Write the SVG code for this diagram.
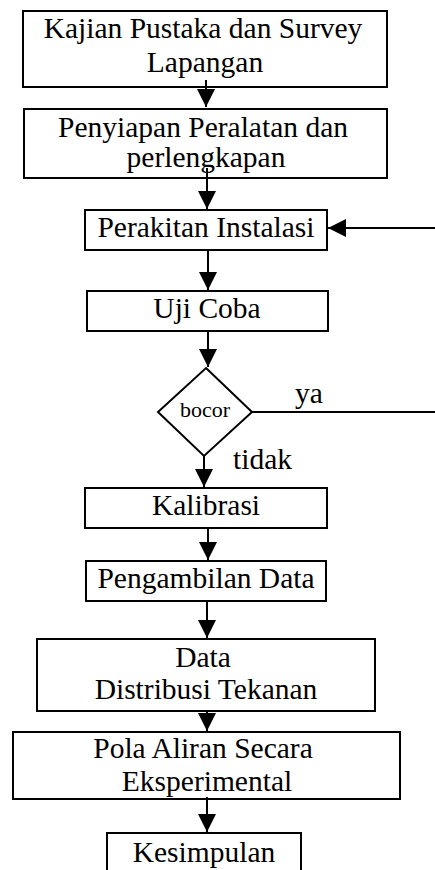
<svg xmlns="http://www.w3.org/2000/svg" width="435" height="870" viewBox="0 0 435 870">
<style>
.box{fill:#fff;stroke:#000;stroke-width:2}
text{font-family:'Liberation Serif','Times New Roman','DejaVu Serif',serif;fill:#000}
.t{font-size:29.5px;text-anchor:middle}
.s{font-size:22px;text-anchor:middle}
.l{font-size:29.5px}
.c{fill:none;stroke:#000;stroke-width:2}
</style>
<defs>
<marker id="ah" markerUnits="userSpaceOnUse" markerWidth="19" markerHeight="19" refX="18" refY="9" orient="auto">
<path d="M0,0 L18,9 L0,18 z" fill="#000"/>
</marker>
</defs>
<rect width="435" height="870" fill="#fff"/>
<g id="n1"><rect class="box" x="23" y="11" width="364" height="76"/><text class="t" x="203" y="38">Kajian Pustaka dan Survey</text><text class="t" x="205" y="72">Lapangan</text></g>
<g id="n2"><rect class="box" x="24" y="109" width="363" height="69"/><text class="t" x="203" y="137">Penyiapan Peralatan dan</text><text class="t" x="206" y="167">perlengkapan</text></g>
<g id="n3"><rect class="box" x="85" y="210" width="242" height="40"/><text class="t" x="206" y="237">Perakitan Instalasi</text></g>
<g id="n4"><rect class="box" x="87" y="291" width="241" height="40"/><text class="t" x="207" y="318">Uji Coba</text></g>
<g id="n5"><polygon class="box" points="206,368 252,412 204,456 158,412"/><text class="s" x="205" y="417">bocor</text></g>
<g id="n6"><rect class="box" x="85" y="488" width="242" height="40"/><text class="t" x="206" y="515">Kalibrasi</text></g>
<g id="n7"><rect class="box" x="86" y="561" width="240" height="40"/><text class="t" x="206" y="588">Pengambilan Data</text></g>
<g id="n8"><rect class="box" x="37" y="639" width="338" height="72"/><text class="t" x="203" y="667">Data</text><text class="t" x="206" y="699">Distribusi Tekanan</text></g>
<g id="n9"><rect class="box" x="13" y="732" width="387" height="67"/><text class="t" x="203" y="758">Pola Aliran Secara</text><text class="t" x="207" y="791">Eksperimental</text></g>
<g id="n10"><rect class="box" x="107" y="833" width="194" height="50"/><text class="t" x="204" y="862">Kesimpulan</text></g>
<g id="connectors">
<line class="c" x1="206" y1="80" x2="206" y2="107" marker-end="url(#ah)"/>
<line class="c" x1="207" y1="168" x2="207" y2="209" marker-end="url(#ah)"/>
<line class="c" x1="208" y1="250" x2="208" y2="290" marker-end="url(#ah)"/>
<line class="c" x1="208" y1="331" x2="208" y2="367" marker-end="url(#ah)"/>
<line class="c" x1="204" y1="456" x2="204" y2="487" marker-end="url(#ah)"/>
<line class="c" x1="208" y1="528" x2="208" y2="560" marker-end="url(#ah)"/>
<line class="c" x1="207" y1="601" x2="207" y2="638" marker-end="url(#ah)"/>
<line class="c" x1="207" y1="711" x2="207" y2="731" marker-end="url(#ah)"/>
<line class="c" x1="207" y1="797" x2="207" y2="832" marker-end="url(#ah)"/>
<path class="c" d="M252,412 H440 V228 H328" marker-end="url(#ah)"/>
<text class="l" x="295" y="403">ya</text>
<text class="l" x="233" y="469">tidak</text>
</g>
</svg>
